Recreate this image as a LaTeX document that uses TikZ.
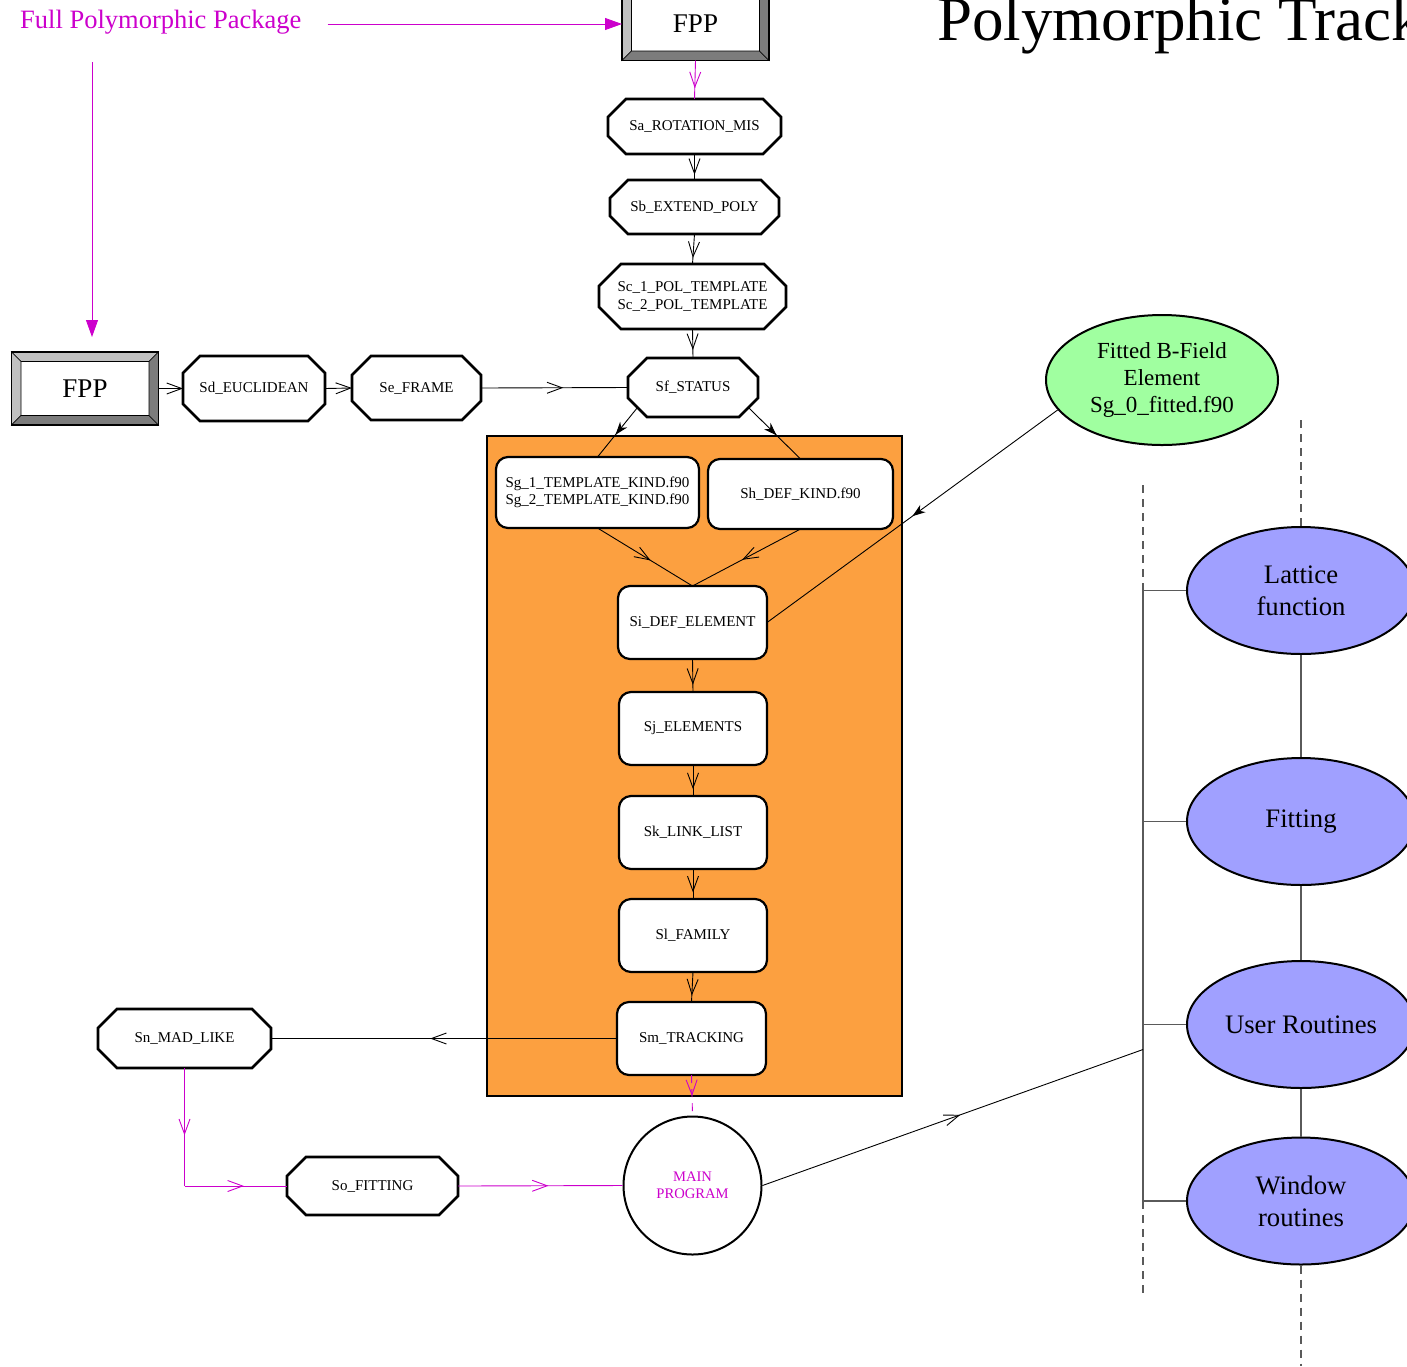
\documentclass[tikz,border=0pt]{standalone}
\usepackage{fontspec}
\setmainfont{Liberation Serif}
\usetikzlibrary{arrows.meta,calc,shapes.geometric,decorations.markings}

\definecolor{mag}{RGB}{204,0,204}
\definecolor{orangebox}{RGB}{252,160,64}
\definecolor{fitgreen}{RGB}{160,255,160}
\definecolor{libblue}{RGB}{160,160,255}
\definecolor{bevlight}{RGB}{192,192,192}
\definecolor{bevdark}{RGB}{124,124,124}
\definecolor{busgray}{RGB}{90,90,90}

\tikzset{
  small/.style={font=\fontsize{15}{17.5}\selectfont, align=center},
  octbox/.style={small, inner sep=0pt, outer sep=0pt},
  octline/.style={draw=black, line width=2.6pt, line join=miter},
  roundbox/.style={small, draw=black, fill=white, line width=2.2pt,
    rounded corners=12pt, inner sep=0pt, outer sep=0pt},
  fppbox/.style={font=\fontsize{27}{30}\selectfont, minimum width=147,
    minimum height=73, inner sep=0pt, outer sep=0pt},
  libellipse/.style={ellipse, draw=black, line width=2pt, fill=libblue,
    minimum width=228, minimum height=127, inner sep=0pt, align=center,
    font=\fontsize{26.7}{32}\selectfont},
  conn/.style={line width=0.9pt},
  busline/.style={draw=busgray, line width=1.2pt},
  busdash/.style={busline, dash pattern=on 8pt off 6pt},
  midv/.style={postaction={decorate}, decoration={markings,
    mark=at position #1 with {\arrow[line width=0.9pt]{Straight Barb[length=15pt,width=11pt]}}}},
  midsteal/.style={postaction={decorate}, decoration={markings,
    mark=at position #1 with {\arrow{Stealth[length=13pt,width=9pt,inset=4pt]}}}},
  endv/.style={-{Straight Barb[length=15pt,width=11pt]}},
  filltip/.style={-{Triangle[length=17pt,width=12pt]}}
}

% chamfered outline around a rectangular node
\newcommand\octframe[2]{%
  \draw[octline] ($(#1.north west)+(#2,0)$) -- ($(#1.north east)+(-#2,0)$)
    -- ($(#1.north east)+(0,#2)$) -- ($(#1.south east)+(0,-#2)$)
    -- ($(#1.south east)+(-#2,0)$) -- ($(#1.south west)+(#2,0)$)
    -- ($(#1.south west)+(0,-#2)$) -- ($(#1.north west)+(0,#2)$) -- cycle;}

% raised grey frame around a rectangular node
\newcommand\bevelframe[1]{%
  \filldraw[fill=bevlight, draw=black, line width=0.6pt] (#1.north west) -- (#1.north east)
    -- ($(#1.north east)+(-9.5,9.5)$) -- ($(#1.north west)+(9.5,9.5)$) -- cycle;
  \filldraw[fill=bevlight, draw=black, line width=0.6pt] (#1.north west) -- ($(#1.north west)+(9.5,9.5)$)
    -- ($(#1.south west)+(9.5,-9.5)$) -- (#1.south west) -- cycle;
  \filldraw[fill=bevdark, draw=black, line width=0.6pt] (#1.south west) -- ($(#1.south west)+(9.5,-9.5)$)
    -- ($(#1.south east)+(-9.5,-9.5)$) -- (#1.south east) -- cycle;
  \filldraw[fill=bevdark, draw=black, line width=0.6pt] (#1.south east) -- ($(#1.south east)+(-9.5,-9.5)$)
    -- ($(#1.north east)+(-9.5,9.5)$) -- (#1.north east) -- cycle;
  \draw[line width=1.2pt] (#1.north west) rectangle (#1.south east);}

\begin{document}
\begin{tikzpicture}[x=1pt, y=-1pt]
\useasboundingbox (0,0) rectangle (1407,1366);
\clip (0,0) rectangle (1407,1366);

% title and package label
\node[anchor=base west, inner sep=0pt, font=\fontsize{63}{63}\selectfont] (title) at (937,40) {Polymorphic Tracking Code};
\node[anchor=base west, inner sep=0pt, text=mag, font=\fontsize{26.5}{30}\selectfont] (fpkg) at (20,28) {Full Polymorphic Package};

% orange container
\filldraw[fill=orangebox, draw=black, line width=2pt] (487,436) rectangle (902,1096);

% FPP boxes
\node[fppbox] (fppt) at (695.5,24) {};
\bevelframe{fppt}
\node[fppbox] at (fppt) {FPP};
\node[fppbox] (fppl) at (85,388.5) {};
\bevelframe{fppl}
\node[fppbox] at (fppl) {FPP};

% octagonal modules
\node[octbox, minimum width=173, minimum height=55] (sa) at (694.5,126.5) {Sa\_ROTATION\_MIS};
\octframe{sa}{18}
\node[octbox, minimum width=169, minimum height=54] (sb) at (694.5,207) {Sb\_EXTEND\_POLY};
\octframe{sb}{18}
\node[octbox, minimum width=187, minimum height=65] (sc) at (692.5,296.5) {Sc\_1\_POL\_TEMPLATE\\Sc\_2\_POL\_TEMPLATE};
\octframe{sc}{22}
\node[octbox, minimum width=142, minimum height=65] (sd) at (254,388.5) {Sd\_EUCLIDEAN};
\octframe{sd}{17}
\node[octbox, minimum width=129, minimum height=64] (se) at (416.5,388) {Se\_FRAME};
\octframe{se}{19}
\node[octbox, minimum width=130, minimum height=59] (sf) at (693,387.5) {Sf\_STATUS};
\octframe{sf}{19}
\node[octbox, minimum width=173, minimum height=59] (sn) at (184.5,1038.5) {Sn\_MAD\_LIKE};
\octframe{sn}{19}
\node[octbox, minimum width=171, minimum height=58] (so) at (372.5,1186) {So\_FITTING};
\octframe{so}{19}

% rounded modules inside the container
\node[roundbox, minimum width=203, minimum height=71] (sg) at (597.5,492.5) {Sg\_1\_TEMPLATE\_KIND.f90\\Sg\_2\_TEMPLATE\_KIND.f90};
\node[roundbox, minimum width=185, minimum height=70] (sh) at (800.5,494) {Sh\_DEF\_KIND.f90};
\node[roundbox, minimum width=149, minimum height=73] (si) at (692.5,622.5) {Si\_DEF\_ELEMENT};
\node[roundbox, minimum width=148, minimum height=73] (sj) at (693,728.5) {Sj\_ELEMENTS};
\node[roundbox, minimum width=148, minimum height=73] (sk) at (693,832.5) {Sk\_LINK\_LIST};
\node[roundbox, minimum width=148, minimum height=73] (sl) at (693,935.5) {Sl\_FAMILY};
\node[roundbox, minimum width=149, minimum height=73] (sm) at (691.5,1038.5) {Sm\_TRACKING};

% main program
\node[circle, draw=black, fill=white, line width=2pt, minimum size=138, inner sep=0pt,
  align=center, text=mag, font=\fontsize{14.6}{17}\selectfont] (main) at (692.5,1185.5) {MAIN\\PROGRAM};

% fitted field element
\node[ellipse, draw=black, line width=2pt, fill=fitgreen, minimum width=232, minimum height=130,
  inner sep=0pt, align=center, font=\fontsize{23}{27}\selectfont] (fitted) at (1162,380)
  {Fitted B-Field\\Element\\Sg\_0\_fitted.f90};

% library ellipses on the right
\node[libellipse] (lat) at (1301,590.5) {Lattice\\function};
\node[libellipse] (fit) at (1301,821.5) {Fitting};
\node[libellipse] (usr) at (1301,1024.5) {User Routines};
\node[libellipse] (win) at (1301,1201) {Window\\routines};

% bus lines
\coordinate (bustop) at (1143,485);
\coordinate (busa) at (1143,590.5);
\coordinate (busb) at (1143,821.5);
\coordinate (busc) at (1143,1024.5);
\coordinate (busd) at (1143,1201);
\coordinate (busbot) at (1143,1295);
\coordinate (busin) at (1143,1049.5);
\coordinate (topdash) at (1301,420);
\coordinate (botdash) at (1301,1366);
\draw[busdash] (bustop) -- (busa);
\draw[busline] (busa) -- (busd);
\draw[busdash] (busd) -- (busbot);
\draw[busline] (busa) -- (lat.west);
\draw[busline] (busb) -- (fit.west);
\draw[busline] (busc) -- (usr.west);
\draw[busline] (busd) -- (win.west);
\draw[busline] (lat.south) -- (fit.north);
\draw[busline] (fit.south) -- (usr.north);
\draw[busline] (usr.south) -- (win.north);
\draw[busdash] (topdash) -- (lat.north);
\draw[busdash] (win.south) -- (botdash);

% magenta package arrows
\draw[mag, conn, filltip, shorten <=26pt] (fpkg.east |- fppt.west) -- (fppt.west);
\coordinate (pkgdrop) at (92,62);
\draw[mag, conn, filltip, shorten >=15pt] (pkgdrop) -- (pkgdrop |- fppl.north);
\draw[mag, conn, midv=0.72] (fppt.south) -- (sa.north);

% main chain
\draw[conn, midv=0.8] (sa.south) -- (sb.north);
\draw[conn, midv=0.8] (sb.south) -- (sc.north);
\draw[conn, midv=0.72] (sc.south) -- (sf.north);
\draw[conn, endv] (fppl.east) -- (sd.west);
\draw[conn, endv] (sd.east) -- (se.west);
\draw[conn, midv=0.56] (se.east) -- (sf.west);
\draw[conn, midsteal=0.55] ($(sf.south west)+(9.5,-9.5)$) -- (sg.north);
\draw[conn, midsteal=0.54] ($(sf.south east)+(-9.5,-9.5)$) -- (sh.north);
\draw[conn, midv=0.56] (sg.south) -- (si.north);
\draw[conn, midv=0.54] (sh.south) -- (si.north);
\draw[conn, midsteal=0.5] (fitted.196) -- (si.east);
\draw[conn, midv=0.78] (si.south) -- (sj.north);
\draw[conn, midv=0.78] (sj.south) -- (sk.north);
\draw[conn, midv=0.78] (sk.south) -- (sl.north);
\draw[conn, midv=0.78] (sl.south) -- (sm.north);
\draw[conn, midv=0.54] (sm.west) -- (sn.east);
\draw[mag, conn, dash pattern=on 8pt off 6pt, midv=0.52] (sm.south) -- (main.north);

% fitting path to main program
\coordinate (snturn) at (sn.south |- so.west);
\draw[mag, conn, midv=0.57] (sn.south) -- (snturn);
\draw[mag, conn, midv=0.58] (snturn) -- (so.west);
\draw[mag, conn, midv=0.55] (so.east) -- (main.west);
\draw[conn, midv=0.52] (main.east) -- (busin);

\end{tikzpicture}
\end{document}
